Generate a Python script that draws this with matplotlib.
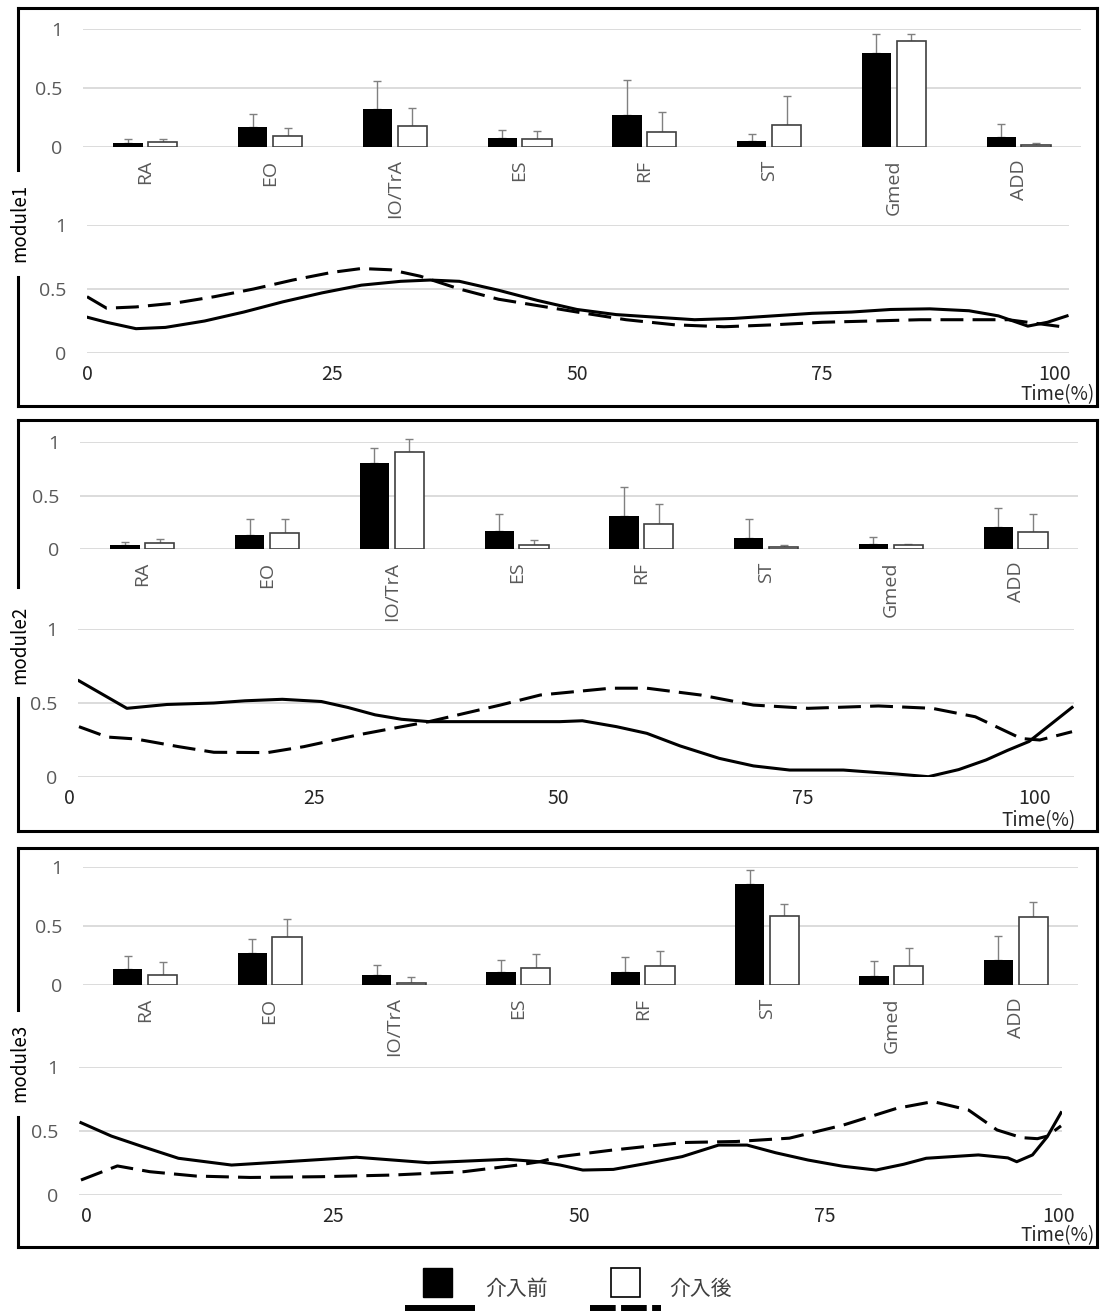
import matplotlib.pyplot as plt
from matplotlib.lines import Line2D
from matplotlib.patches import Rectangle
import numpy as np

plt.rcParams['font.family'] = ['Open Sans', 'DejaVu Sans']
JP = ['Noto Sans CJK JP', 'DejaVu Sans']

muscles = ['RA', 'EO', 'IO/TrA', 'ES', 'RF', 'ST', 'Gmed', 'ADD']

# bar values (mean, sd) - 介入前 / 介入後
m1_pre = [0.03, 0.17, 0.32, 0.074, 0.27, 0.05, 0.80, 0.085]
m1_pre_sd = [0.04, 0.11, 0.24, 0.073, 0.30, 0.06, 0.16, 0.11]
m1_post = [0.04, 0.093, 0.18, 0.065, 0.127, 0.184, 0.90, 0.02]
m1_post_sd = [0.025, 0.067, 0.15, 0.073, 0.167, 0.246, 0.06, 0.01]

m2_pre = [0.037, 0.128, 0.80, 0.171, 0.31, 0.10, 0.05, 0.21]
m2_pre_sd = [0.025, 0.155, 0.14, 0.159, 0.27, 0.18, 0.06, 0.17]
m2_post = [0.053, 0.15, 0.91, 0.037, 0.23, 0.02, 0.035, 0.16]
m2_post_sd = [0.043, 0.133, 0.12, 0.047, 0.19, 0.015, 0.01, 0.17]

m3_pre = [0.133, 0.269, 0.082, 0.11, 0.11, 0.856, 0.076, 0.209]
m3_pre_sd = [0.113, 0.118, 0.09, 0.099, 0.127, 0.116, 0.13, 0.206]
m3_post = [0.082, 0.404, 0.02, 0.144, 0.164, 0.582, 0.164, 0.579]
m3_post_sd = [0.115, 0.158, 0.045, 0.121, 0.121, 0.102, 0.147, 0.127]

# activation patterns (time %, value)
m1_pre_t = [0, 2, 5, 8, 12, 16, 20, 24, 28, 32, 35, 38, 42, 46, 50, 54, 58, 62, 66, 70,
            74, 78, 82, 86, 90, 93, 96, 98, 100]
m1_pre_v = [0.28, 0.24, 0.19, 0.20, 0.25, 0.32, 0.40, 0.47, 0.53, 0.56, 0.57, 0.56, 0.49,
            0.41, 0.34, 0.30, 0.28, 0.26, 0.27, 0.29, 0.31, 0.32, 0.34, 0.345, 0.33, 0.29,
            0.21, 0.24, 0.29]
m1_post_t = [0, 2, 5, 9, 13, 17, 21, 25, 28, 31, 34, 38, 42, 46, 50, 55, 60, 65, 70, 75,
             80, 85, 90, 94, 97, 100]
m1_post_v = [0.44, 0.35, 0.36, 0.39, 0.44, 0.50, 0.57, 0.63, 0.66, 0.65, 0.60, 0.50, 0.42,
             0.37, 0.32, 0.26, 0.22, 0.205, 0.22, 0.24, 0.25, 0.26, 0.26, 0.26, 0.23, 0.20]

m2_pre_t = [1, 5.9, 10, 14.8, 18, 21.8, 25.8, 28.5, 31.3, 34, 36.8, 40, 45, 50.2, 52.5, 56,
            59.1, 62.5, 66.5, 70, 73.7, 79.2, 84.7, 87.9, 91, 93.8, 96, 98.2, 100.5, 102.6]
m2_pre_v = [0.65, 0.464, 0.49, 0.50, 0.515, 0.525, 0.51, 0.47, 0.42, 0.39, 0.374, 0.374,
            0.374, 0.374, 0.38, 0.34, 0.295, 0.21, 0.126, 0.075, 0.047, 0.047, 0.02, 0.002,
            0.05, 0.115, 0.18, 0.24, 0.36, 0.47]
m2_post_t = [1, 3.9, 6.8, 11.2, 14.8, 20.3, 24, 29.5, 36.8, 44.1, 48.2, 55.4, 59.1, 64.6,
             70, 75.6, 82.8, 88.3, 92.7, 97.4, 99.3, 102.6]
m2_post_v = [0.34, 0.27, 0.257, 0.205, 0.167, 0.165, 0.205, 0.284, 0.374, 0.486, 0.554,
             0.60, 0.60, 0.554, 0.486, 0.464, 0.48, 0.464, 0.407, 0.26, 0.25, 0.306]

m3_pre_t = [-0.6, 2.5, 5.7, 9.3, 14.7, 20.2, 27.4, 34.7, 42.7, 46, 48.1, 50.4, 53.5, 56.9,
            60.5, 64.2, 67.1, 70, 73.3, 76.8, 80.2, 83, 85.3, 90.6, 93.6, 94.5, 96.1, 97.6, 99]
m3_pre_v = [0.565, 0.46, 0.377, 0.287, 0.234, 0.26, 0.295, 0.252, 0.279, 0.26, 0.234, 0.195,
            0.2, 0.247, 0.3, 0.39, 0.39, 0.33, 0.273, 0.225, 0.195, 0.24, 0.287, 0.313, 0.29,
            0.26, 0.313, 0.455, 0.643]
m3_post_t = [-0.6, 3.1, 6.4, 11.1, 16.6, 23.8, 31.1, 38.3, 43.8, 46, 48.1, 53.3, 60.6, 66,
             71.4, 76.9, 82.3, 86, 89.6, 92.5, 95, 96.6, 97.6, 99]
m3_post_v = [0.117, 0.227, 0.182, 0.148, 0.137, 0.143, 0.156, 0.182, 0.234, 0.26, 0.3, 0.35,
             0.41, 0.418, 0.444, 0.547, 0.677, 0.73, 0.664, 0.508, 0.448, 0.44, 0.46, 0.54]

time_ticks = [0, 25, 50, 75, 100]

W, H = 1102, 1315
fig = plt.figure(figsize=(W / 100, H / 100), dpi=100)


def box(x0, y0, x1, y1):
    return [x0 / W, 1 - y1 / H, (x1 - x0) / W, (y1 - y0) / H]


def fx(x):
    return x / W


def fy(y):
    return 1 - y / H


GRID = '#d9d9d9'
LABEL = '#595959'

panels = [
    dict(name='module1', bars=(m1_pre, m1_pre_sd, m1_post, m1_post_sd),
         lines=(m1_pre_t, m1_pre_v, m1_post_t, m1_post_v),
         bar_box=(83, 29, 1081, 147), line_box=(87, 225, 1069, 353), xlim=(0, 100.2),
         frame=(8, 406), gap=(170, 277), label_y=223, time_pos=(1095, 395)),
    dict(name='module2', bars=(m2_pre, m2_pre_sd, m2_post, m2_post_sd),
         lines=(m2_pre_t, m2_pre_v, m2_post_t, m2_post_v),
         bar_box=(80, 442, 1078, 549), line_box=(78, 629, 1074, 777), xlim=(0.9, 102.8),
         frame=(420, 831), gap=(587, 698), label_y=645, time_pos=(1076, 821)),
    dict(name='module3', bars=(m3_pre, m3_pre_sd, m3_post, m3_post_sd),
         lines=(m3_pre_t, m3_pre_v, m3_post_t, m3_post_v),
         bar_box=(83, 867, 1078, 985), line_box=(79, 1067, 1062, 1195), xlim=(-0.8, 99.1),
         frame=(848, 1247), gap=(1010, 1117), label_y=1063, time_pos=(1095, 1236)),
]

for p in panels:
    # bar chart
    ax = fig.add_axes(box(*p['bar_box']))
    pre, pre_sd, post, post_sd = p['bars']
    x = np.arange(len(muscles))
    ax.bar(x - 0.14, pre, 0.235, color='black', zorder=3)
    ax.bar(x + 0.14, post, 0.235, color='white', edgecolor='#404040', linewidth=1.2, zorder=3)
    for xs, m, sd in [(x - 0.14, pre, pre_sd), (x + 0.14, post, post_sd)]:
        eb = ax.errorbar(xs, m, yerr=[np.zeros(len(m)), sd], fmt='none', ecolor='#808080',
                         elinewidth=1, capsize=3, capthick=1, zorder=2)
        for c in eb.get_children():
            c.set_clip_on(False)
    ax.set_xlim(-0.5, 7.5)
    ax.set_ylim(0, 1)
    ax.set_yticks([0, 0.5, 1])
    ax.set_yticklabels(['0', '0.5', '1'])
    ax.set_xticks(x)
    ax.set_xticklabels(muscles, rotation=90, va='top')
    ax.tick_params(axis='y', length=0, pad=15, labelsize=14, labelcolor=LABEL)
    ax.tick_params(axis='x', length=0, pad=9, labelsize=14, labelcolor=LABEL)
    ax.grid(axis='y', color=GRID, linewidth=1.3)
    ax.set_axisbelow(True)
    for s in ax.spines.values():
        s.set_visible(False)

    # line chart
    lx = fig.add_axes(box(*p['line_box']))
    t1, v1, t2, v2 = p['lines']
    lx.plot(t1, v1, color='black', linewidth=2.2, zorder=3)
    lx.plot(t2, v2, color='black', linewidth=2.2, linestyle=(0, (7.5, 3)), zorder=3)
    lx.set_xlim(*p['xlim'])
    lx.set_ylim(0, 1)
    lx.set_yticks([0, 0.5, 1])
    lx.set_yticklabels(['0', '0.5', '1'])
    lx.set_xticks([])
    lx.tick_params(axis='y', length=0, pad=15, labelsize=14, labelcolor=LABEL)
    lx.grid(axis='y', color=GRID, linewidth=1.3)
    lx.set_axisbelow(True)
    for s in lx.spines.values():
        s.set_visible(False)
    for tv in time_ticks:
        off = -12 if tv == 100 else 0
        lx.annotate(str(tv), xy=(tv, 0), xycoords=('data', 'axes fraction'),
                    xytext=(off, -22), textcoords='offset pixels', ha='center', va='center',
                    fontsize=14, color='#262626', family=JP, annotation_clip=False)
    fig.text(fx(p['time_pos'][0]), fy(p['time_pos'][1]), 'Time(%)', ha='right', va='center',
             fontsize=13.5, color='#262626', family=JP)

    # module label and frame
    fig.text(fx(20), fy(p['label_y']), p['name'], rotation=90, ha='center', va='center',
             fontsize=13.5, color='black', family=JP)
    y0, y1 = p['frame']
    g0, g1 = p['gap']
    segs = [((18, 1097), (y0, y0)), ((1097, 1097), (y0, y1)), ((18, 1097), (y1, y1)),
            ((18, 18), (y0, g0)), ((18, 18), (g1, y1))]
    for xs, ys in segs:
        fig.add_artist(Line2D([fx(v) for v in xs], [fy(v) for v in ys], color='black',
                              linewidth=2.2, solid_capstyle='projecting'))

# legend
fig.add_artist(Rectangle((fx(423), fy(1297)), 29 / W, 29 / H, facecolor='black',
                         edgecolor='black', linewidth=1))
fig.add_artist(Rectangle((fx(611), fy(1297)), 29 / W, 29 / H, facecolor='white',
                         edgecolor='black', linewidth=1.2))
fig.add_artist(Line2D([fx(405), fx(475)], [fy(1308), fy(1308)], color='black', linewidth=4.3,
                      solid_capstyle='butt'))
fig.add_artist(Line2D([fx(590), fx(661)], [fy(1308), fy(1308)], color='black', linewidth=4.3,
                      linestyle=(0, (4.3, 0.9)), dash_capstyle='butt'))
fig.text(fx(485), fy(1289), '介入前', ha='left', va='center', fontsize=15, color='#404040',
         family=JP)
fig.text(fx(669), fy(1289), '介入後', ha='left', va='center', fontsize=15, color='#404040',
         family=JP)

fig.savefig('out.png', dpi=100)
